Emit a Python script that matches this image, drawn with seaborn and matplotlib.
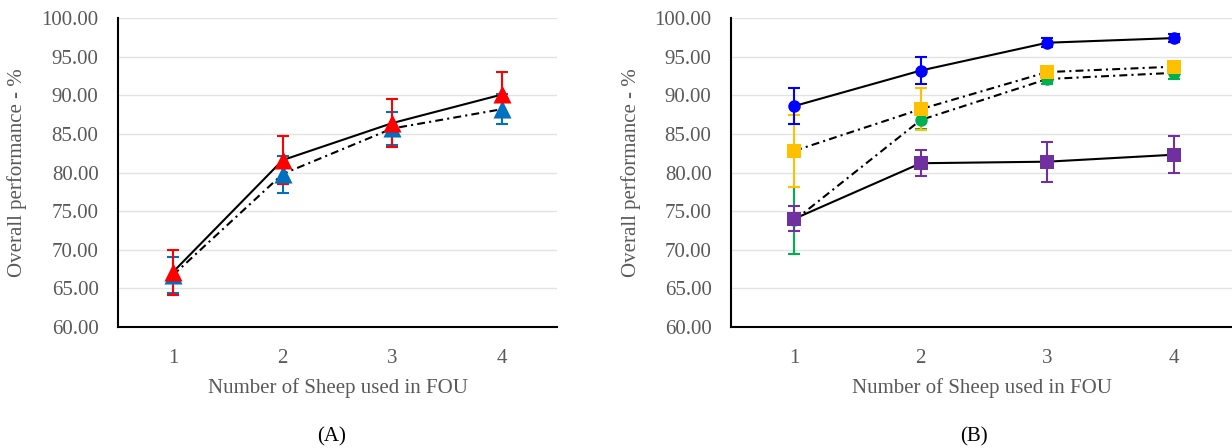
import matplotlib
matplotlib.use("Agg")
import matplotlib.pyplot as plt
import seaborn as sns

# data
sheep = [1, 2, 3, 4]

# panel A
a_red_mean = [67.1, 81.6, 86.4, 90.1]
a_red_err = [2.9, 3.1, 3.1, 2.9]
a_blue_mean = [66.7, 79.8, 85.7, 88.2]
a_blue_err = [2.3, 2.4, 2.1, 1.9]

# panel B
b_blue_mean = [88.6, 93.2, 96.8, 97.4]
b_blue_err = [2.3, 1.7, 0.6, 0.5]
b_yellow_mean = [82.8, 88.2, 93.0, 93.7]
b_yellow_err = [4.7, 2.7, 0.5, 0.5]
b_green_mean = [73.8, 86.8, 92.1, 92.9]
b_green_err = [4.3, 1.2, 0.7, 0.8]
b_purple_mean = [74.0, 81.2, 81.4, 82.3]
b_purple_err = [1.6, 1.7, 2.6, 2.4]

y_ticks = [60, 65, 70, 75, 80, 85, 90, 95, 100]
x_label = "Number of Sheep used in FOU"
y_label = "Overall performance - %"

sns.set_style("white")
plt.rcParams["font.family"] = ["Liberation Serif", "DejaVu Serif"]

GREY = "#595959"
DASHDOT = (0, (3.8, 2.0, 1.0, 2.0))


def draw_series(ax, mean, err, color, marker, msize, ls):
    # black connecting line
    sns.lineplot(x=sheep, y=mean, ax=ax, color="black", linewidth=1.5,
                 linestyle=ls, zorder=2)
    # error bars
    ax.errorbar(sheep, mean, yerr=err, fmt="none", ecolor=color,
                elinewidth=1.5, capsize=4.5, capthick=1.5, zorder=3)
    # markers
    sns.scatterplot(x=sheep, y=mean, ax=ax, color=color, marker=marker,
                    s=msize ** 2, linewidth=0, zorder=4)


def style_axes(ax, right_lim):
    ax.set_xlim(0.5, right_lim)
    ax.set_ylim(60, 100)
    ax.set_yticks(y_ticks)
    ax.set_yticklabels([f"{t:.2f}" for t in y_ticks])
    ax.set_xticks(sheep)
    ax.set_xticklabels([str(s) for s in sheep])
    ax.yaxis.grid(True, color="#e3e3e3", linewidth=1.0)
    ax.set_axisbelow(True)
    for side in ["top", "right"]:
        ax.spines[side].set_visible(False)
    for side in ["left", "bottom"]:
        ax.spines[side].set_color("black")
        ax.spines[side].set_linewidth(1.5)
    ax.tick_params(axis="both", which="both", direction="out", length=5,
                   width=1.2, color="black", labelcolor=GREY, labelsize=15)
    ax.tick_params(axis="x", pad=11)
    ax.tick_params(axis="y", pad=9)
    ax.set_xlabel(x_label, fontsize=15, color=GREY)
    ax.set_ylabel(y_label, fontsize=15, color=GREY)


fig = plt.figure(figsize=(12.32, 4.48), dpi=100)
ax_a = fig.add_axes([118 / 1232, 1 - 327 / 448, 439 / 1232, 309 / 448])
ax_b = fig.add_axes([731 / 1232, 1 - 327 / 448, 501 / 1232, 309 / 448])

# (A)
draw_series(ax_a, a_blue_mean, a_blue_err, "#0070C0", "^", 13, DASHDOT)
draw_series(ax_a, a_red_mean, a_red_err, "#FF0000", "^", 13, "-")
style_axes(ax_a, 4.5)
ax_a.set_xticks([4.5], minor=True)
ax_a.xaxis.set_label_coords(0.5, -0.165)
ax_a.yaxis.set_label_coords(-0.207, 0.5)

# (B)
draw_series(ax_b, b_green_mean, b_green_err, "#00B050", "o", 9, DASHDOT)
draw_series(ax_b, b_yellow_mean, b_yellow_err, "#FFC000", "s", 9.5, DASHDOT)
draw_series(ax_b, b_purple_mean, b_purple_err, "#7030A0", "s", 9.5, "-")
draw_series(ax_b, b_blue_mean, b_blue_err, "#0000FF", "o", 9, "-")
style_axes(ax_b, 4.46)
ax_b.xaxis.set_label_coords(0.5, -0.165)
ax_b.yaxis.set_label_coords(-0.18, 0.5)

fig.text(332 / 1232, 1 - 437 / 448, "(A)", fontsize=15, color="black",
         ha="center", va="center")
fig.text(974 / 1232, 1 - 437 / 448, "(B)", fontsize=15, color="black",
         ha="center", va="center")

fig.savefig("out.png", dpi=100)
